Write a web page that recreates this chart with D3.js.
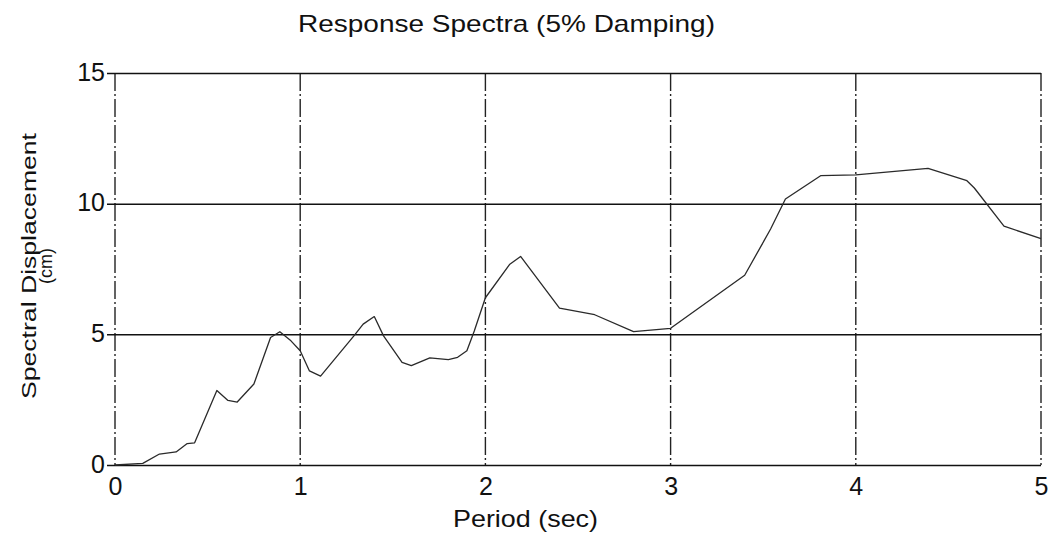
<!DOCTYPE html>
<html>
<head>
<meta charset="utf-8">
<script src="https://cdn.jsdelivr.net/npm/d3@7"></script>
<style>
    body { margin: 0; background: #fff; }
    text { font-family: "Liberation Sans", Arial, sans-serif; fill: #111; }
</style>
</head>
<body>
<div id="chart"></div>
<script>
// Data
var period = [0, 0.15, 0.24, 0.33, 0.39, 0.43, 0.55, 0.61, 0.66, 0.75, 0.84, 0.89, 0.95, 1.0,
    1.05, 1.11, 1.29, 1.34, 1.40, 1.45, 1.55, 1.60, 1.70, 1.80, 1.85, 1.90, 1.94, 2.0,
    2.13, 2.19, 2.40, 2.59, 2.80, 3.0, 3.40, 3.54, 3.62, 3.81, 4.0, 4.39, 4.60, 4.64, 4.80, 5.0];
var displacement = [0, 0.06, 0.42, 0.5, 0.82, 0.85, 2.85, 2.47, 2.41, 3.1, 4.88, 5.1, 4.75, 4.37,
    3.6, 3.4, 4.94, 5.39, 5.68, 4.94, 3.93, 3.8, 4.1, 4.03, 4.12, 4.37, 5.13, 6.4,
    7.67, 7.98, 6.0, 5.75, 5.1, 5.23, 7.26, 9.03, 10.18, 11.07, 11.1, 11.35, 10.88, 10.6, 9.14, 8.66];

var xTicks = [0, 1, 2, 3, 4, 5];
var yTicks = [0, 5, 10, 15];

var titleText = "Response Spectra (5% Damping)";
var xLabel = "Period (sec)";
var yLabel = ["Spectral Displacement", "(cm)"];

function init() {
    var width = 1054, height = 544;
    var margin = {top: 73, left: 115, right: 13, bottom: 79};

    var svg = d3.select("#chart")
        .append("svg")
        .attr("width", width)
        .attr("height", height);

    svg.append("rect")
        .attr("width", width)
        .attr("height", height)
        .attr("fill", "#fff");

    var x = d3.scaleLinear()
        .domain([0, 5])
        .range([margin.left, width - margin.right]);

    var y = d3.scaleLinear()
        .domain([0, 15])
        .range([height - margin.bottom, margin.top]);

    // vertical dash-dot grid (also the left axis line)
    svg.append("g")
        .selectAll("line")
        .data(xTicks)
        .join("line")
        .attr("x1", d => x(d))
        .attr("x2", d => x(d))
        .attr("y1", y(15))
        .attr("y2", y(0))
        .attr("stroke", "#222")
        .attr("stroke-width", 1.4)
        .attr("stroke-dasharray", "18,3,2,3");

    // horizontal solid grid via the y axis
    var yAxis = svg.append("g")
        .attr("transform", "translate(" + margin.left + ",0)")
        .call(d3.axisLeft(y)
            .tickValues(yTicks)
            .tickFormat(d3.format("d"))
            .tickSizeInner(-(x(5) - x(0)))
            .tickSizeOuter(0)
            .tickPadding(10));
    yAxis.select(".domain").remove();
    yAxis.selectAll(".tick line")
        .attr("stroke", "#111")
        .attr("stroke-width", 1.5)
        .attr("x1", -8);
    yAxis.selectAll(".tick text")
        .attr("font-size", 25)
        .attr("x", -10)
        .attr("dy", "0.28em");

    var xAxis = svg.append("g")
        .attr("transform", "translate(0," + y(0) + ")")
        .call(d3.axisBottom(x)
            .tickValues(xTicks)
            .tickFormat(d3.format("d"))
            .tickSize(0)
            .tickPadding(12));
    xAxis.select(".domain").remove();
    xAxis.selectAll(".tick text")
        .attr("font-size", 25)
        .attr("dy", "0.71em");

    // response curve
    var line = d3.line()
        .x((d, i) => x(period[i]))
        .y(d => y(d));

    svg.append("path")
        .datum(displacement)
        .attr("d", line)
        .attr("fill", "none")
        .attr("stroke", "#2a2a2a")
        .attr("stroke-width", 1.3)
        .attr("stroke-linejoin", "round");

    // titles
    svg.append("text")
        .attr("x", 298)
        .attr("y", 32)
        .attr("font-size", 24)
        .attr("textLength", 417)
        .attr("lengthAdjust", "spacingAndGlyphs")
        .text(titleText);

    svg.append("text")
        .attr("x", 453)
        .attr("y", 527)
        .attr("font-size", 24)
        .attr("textLength", 145)
        .attr("lengthAdjust", "spacingAndGlyphs")
        .text(xLabel);

    var yl = svg.append("g")
        .attr("transform", "translate(0,266) rotate(-90)");
    yl.append("text")
        .attr("x", 0)
        .attr("y", 36)
        .attr("text-anchor", "middle")
        .attr("font-size", 21)
        .attr("textLength", 266)
        .attr("lengthAdjust", "spacingAndGlyphs")
        .text(yLabel[0]);
    yl.append("text")
        .attr("x", 0)
        .attr("y", 52)
        .attr("text-anchor", "middle")
        .attr("font-size", 18)
        .text(yLabel[1]);
}

init();
</script>
</body>
</html>
